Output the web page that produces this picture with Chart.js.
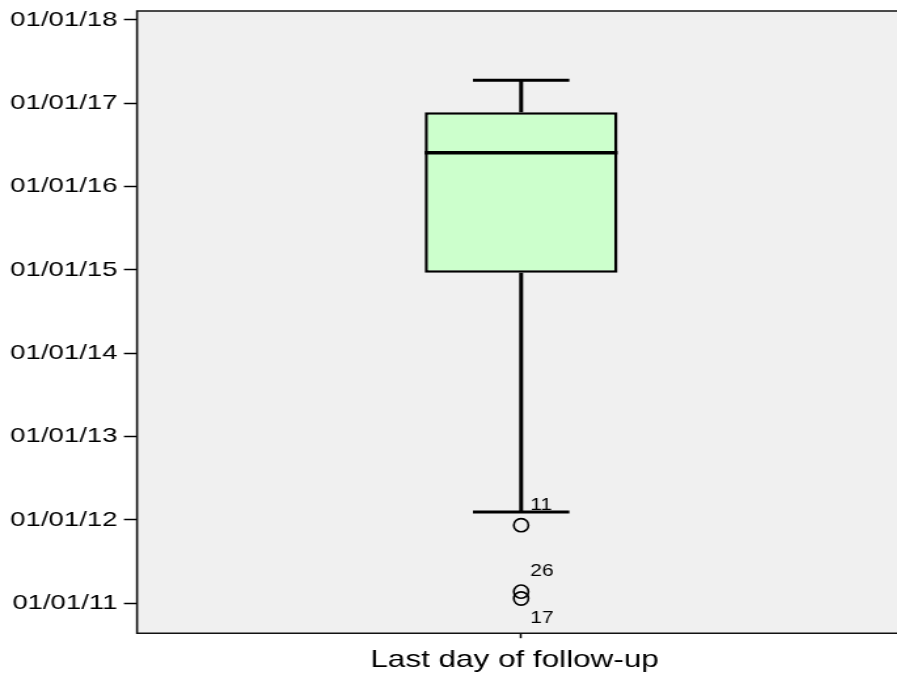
<!DOCTYPE html>
<html>
<head>
<meta charset="utf-8">
<script src="https://cdn.jsdelivr.net/npm/chart.js@4/dist/chart.umd.min.js"></script>
<style>
  html, body { margin: 0; padding: 0; background: #ffffff; overflow: hidden; width: 897px; height: 688px; }
  #clip { position: absolute; left: 0; top: 0; width: 897px; height: 688px; overflow: hidden; }
  #wrap { position: absolute; left: 0; top: 0; width: 691px; height: 688px; transform: scaleX(1.31); transform-origin: 0 0; }
  #c { display: block; }
</style>
</head>
<body>
<div id="clip"><div id="wrap"><canvas id="c" width="691" height="688"></canvas></div></div>
<script>
// ---- data ----
const categories   = ['Last day of follow-up'];
const whiskerLow   = ['2012-02-05'];
const quartile1    = ['2014-12-20'];
const medianDate   = ['2016-05-29'];
const quartile3    = ['2016-11-23'];
const whiskerHigh  = ['2017-04-12'];
const outlierDates = ['2011-12-09', '2011-02-21', '2011-01-22'];
const outlierIds   = ['11', '26', '17'];
const tickDates    = ['2011-01-01', '2012-01-01', '2013-01-01', '2014-01-01',
                      '2015-01-01', '2016-01-01', '2017-01-01', '2018-01-01'];
const axisRange    = ['2010-08-23', '2018-02-09'];

// convert a date string to fractional years since 2000
function toYear(s) {
  const d = Date.parse(s + 'T00:00:00Z');
  const y = new Date(d).getUTCFullYear();
  const a = Date.UTC(y, 0, 1), b = Date.UTC(y + 1, 0, 1);
  return (y - 2000) + (d - a) / (b - a);
}
function fmtTick(v) {
  const yy = Math.round(v);
  return '01/01/' + String(yy).padStart(2, '0');
}

const FONT = "'Liberation Sans', Arial, sans-serif";

const boxPlugin = {
  id: 'boxExtras',
  beforeDraw(chart) {
    const { ctx, chartArea: a } = chart;
    ctx.save();
    ctx.fillStyle = '#f0f0f0';
    // the plot panel continues past the cropped right edge of the picture
    ctx.fillRect(a.left, a.top, chart.width - a.left, a.bottom - a.top);
    ctx.restore();
  },
  afterDatasetsDraw(chart) {
    const { ctx } = chart;
    const ys = chart.scales.y;
    const meta = chart.getDatasetMeta(0);
    meta.data.forEach((bar, i) => {
      const x = bar.x, w = bar.width;
      const yLo = ys.getPixelForValue(toYear(whiskerLow[i]));
      const yQ1 = ys.getPixelForValue(toYear(quartile1[i]));
      const yMd = ys.getPixelForValue(toYear(medianDate[i]));
      const yQ3 = ys.getPixelForValue(toYear(quartile3[i]));
      const yHi = ys.getPixelForValue(toYear(whiskerHigh[i]));
      ctx.save();
      ctx.strokeStyle = '#000';
      ctx.lineCap = 'butt';
      // whiskers
      ctx.lineWidth = 3;
      ctx.beginPath();
      ctx.moveTo(x, yQ3); ctx.lineTo(x, yHi);
      ctx.moveTo(x, yQ1); ctx.lineTo(x, yLo);
      ctx.stroke();
      // caps
      ctx.lineWidth = 3;
      ctx.beginPath();
      ctx.moveTo(x - w / 4, yHi); ctx.lineTo(x + w / 4, yHi);
      ctx.moveTo(x - w / 4, yLo); ctx.lineTo(x + w / 4, yLo);
      ctx.stroke();
      // median
      ctx.lineWidth = 3.5;
      ctx.beginPath();
      ctx.moveTo(x - w / 2, yMd); ctx.lineTo(x + w / 2, yMd);
      ctx.stroke();
      // outliers
      const pys = outlierDates.map(d => ys.getPixelForValue(toYear(d)));
      ctx.lineWidth = 1.6;
      ctx.font = '16px ' + FONT;
      ctx.fillStyle = '#000';
      ctx.textAlign = 'left';
      ctx.textBaseline = 'middle';
      pys.forEach((py, k) => {
        ctx.beginPath();
        ctx.ellipse(x, py, 5.6, 6.6, 0, 0, Math.PI * 2);
        ctx.stroke();
        // label above, unless a close neighbour sits above it -> below
        const crowded = pys.some((q, j) => j !== k && Math.abs(q - py) < 20 && q < py);
        const ly = crowded ? py + 20 : py - 20;
        ctx.fillText(outlierIds[k], x + 7, ly);
      });
      ctx.restore();
    });
  },
  afterDraw(chart) {
    const { ctx, chartArea: a } = chart;
    const r = chart.width + 2;
    ctx.save();
    ctx.strokeStyle = '#111';
    ctx.lineWidth = 1.6;
    ctx.beginPath();
    ctx.moveTo(r, a.top); ctx.lineTo(a.left, a.top);
    ctx.lineTo(a.left, a.bottom); ctx.lineTo(r, a.bottom);
    ctx.stroke();
    ctx.restore();
  }
};

function noPad(s) { s.paddingTop = 0; s.paddingBottom = 0; s.paddingLeft = 0; s.paddingRight = 0; }

new Chart(document.getElementById('c'), {
  type: 'bar',
  data: {
    labels: categories,
    datasets: [{
      data: categories.map((_, i) => [toYear(quartile1[i]), toYear(quartile3[i])]),
      backgroundColor: '#ccffcc',
      borderColor: '#000',
      borderWidth: 2.5,
      borderSkipped: false,
      barPercentage: 0.251,
      categoryPercentage: 1
    }]
  },
  options: {
    responsive: false,
    maintainAspectRatio: false,
    animation: false,
    devicePixelRatio: 1,
    layout: { padding: { left: 7.6, right: 0, top: 11, bottom: 5 } },
    plugins: { legend: { display: false }, tooltip: { enabled: false } },
    scales: {
      x: {
        offset: true,
        afterFit: s => { noPad(s); },
        grid: { offset: false, drawOnChartArea: false, tickLength: 5, tickColor: '#000', tickWidth: 1.5 },
        border: { display: false },
        ticks: { color: '#000', font: { family: FONT, size: 24 }, padding: 8, labelOffset: -5 }
      },
      y: {
        min: toYear(axisRange[0]),
        max: toYear(axisRange[1]),
        afterBuildTicks: s => { s.ticks = tickDates.map(d => ({ value: toYear(d) })); },
        afterFit: s => { s.width = 97; noPad(s); },
        grid: { drawOnChartArea: false, tickLength: 10, tickColor: '#000', tickWidth: 1.5 },
        border: { display: false },
        ticks: { color: '#000', font: { family: FONT, size: 21 }, padding: 5, callback: v => fmtTick(v) }
      }
    }
  },
  plugins: [boxPlugin]
});
</script>
</body>
</html>
